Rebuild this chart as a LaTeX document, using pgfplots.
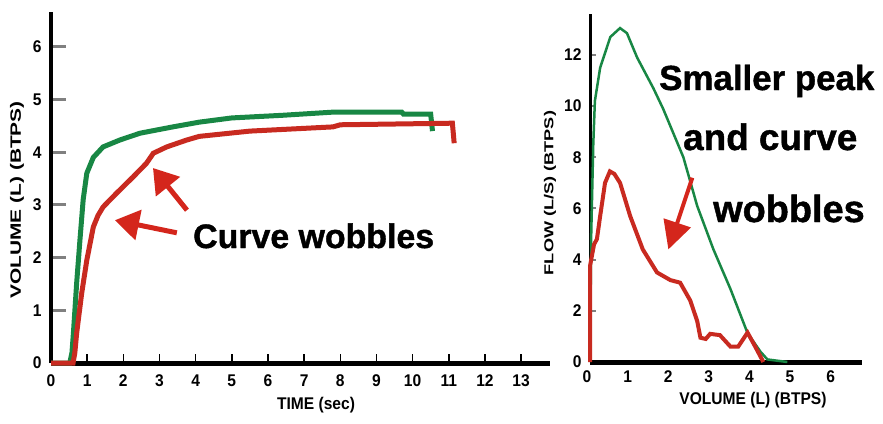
\documentclass[border=0pt]{standalone}
\usepackage{pgfplots}
\pgfplotsset{compat=1.18}
\usepackage{fontspec}
\setmainfont{Liberation Sans}
\usetikzlibrary{arrows.meta}
\newfontfamily\tickf[FakeStretch=0.92]{Liberation Sans}
\newfontfamily\ylabf[FakeStretch=1.4]{Liberation Sans}
\newfontfamily\notef[FakeBold=1.2]{Liberation Sans}
\definecolor{pgreen}{RGB}{24,135,68}
\definecolor{pred}{RGB}{200,42,32}
\definecolor{ared}{RGB}{212,38,28}

\pgfplotsset{
  spiro/.style={
    scale only axis,
    axis x line=bottom, axis y line=left,
    axis line style={-},
    tick align=inside,
    clip=false,
    anchor=south west,
    ticklabel style={font=\tickf\bfseries\fontsize{17}{18}\selectfont, text=black},
    /pgf/number format/assume math mode=true,
  },
}
\tikzset{wob/.style={ared, line width=5bp, -{Triangle[length=24bp,width=30bp]}}}

\begin{document}
\begin{tikzpicture}[x=1bp,y=1bp]
\useasboundingbox (0,0) rectangle (883,423);

% volume-time
\begin{axis}[spiro,
  at={(51bp,60bp)}, width=499bp, height=351bp,
  xmin=0, xmax=13.8, ymin=0, ymax=6.66,
  xtick={0,...,13}, ytick={0,...,6},
  x axis line style={line width=5bp},
  y axis line style={line width=4bp},
  xtick style={draw=none},
  ytick style={line width=3bp, /pgfplots/major tick length=15bp},
  xticklabel style={yshift=-8bp},
  yticklabel style={xshift=-6bp},
]
\addplot[pgreen, line width=5bp] coordinates {
  (0,0) (0.52,0) (0.58,0.2) (0.62,0.57) (0.71,1.52) (0.80,2.33) (0.89,3.1)
  (0.99,3.6) (1.17,3.9) (1.44,4.1) (1.9,4.23) (2.46,4.36) (3.37,4.48)
  (4.1,4.57) (5.0,4.65) (6.4,4.7) (7.8,4.76) (9.7,4.76) (9.75,4.72)
  (10.5,4.72) (10.55,4.4)
};
\addplot[pred, line width=5bp] coordinates {
  (0,0) (0.61,0) (0.66,0.2) (0.71,0.57) (0.85,1.33) (0.99,1.95) (1.17,2.58)
  (1.3,2.8) (1.44,2.96) (1.81,3.22) (2.27,3.53) (2.64,3.79) (2.83,3.98)
  (3.2,4.1) (3.75,4.23) (4.1,4.3) (5.5,4.4) (7.8,4.48) (8,4.52) (11.1,4.55)
  (11.15,4.17)
};
% short upward ticks on the time axis
\pgfplotsinvokeforeach{1,...,13}{
  \draw[black, line width=1.5bp] (axis cs:#1,0) -- ++(0,9bp);
}
\draw[wob] (axis cs:3.48,2.47) -- (axis cs:1.77,2.71);
\draw[wob] (axis cs:3.76,2.9) -- (axis cs:2.82,3.7);
\end{axis}

% flow-volume
\begin{axis}[spiro,
  at={(590bp,61bp)}, width=272bp, height=348bp,
  xmin=0, xmax=6.7, ymin=0, ymax=13.6,
  xtick={0,...,6}, ytick={0,2,...,12},
  x axis line style={line width=5bp},
  y axis line style={line width=3bp},
  xtick style={draw=none},
  ytick style={line width=2bp, /pgfplots/major tick length=6bp},
  xticklabel style={yshift=-5bp, xshift=-3bp},
  yticklabel style={xshift=-5bp},
]
\addplot[pgreen, line width=2.5bp] coordinates {
  (0,0) (0.03,5) (0.08,8.5) (0.12,10.2) (0.25,11.5) (0.5,12.7) (0.74,13.05)
  (0.91,12.85) (1.16,11.9) (1.56,10.7) (1.8,9.9) (2.05,8.95) (2.3,8.0)
  (2.64,6.1) (3.04,4.4) (3.46,2.85) (3.88,1.13) (4.2,0.4) (4.37,0.1) (4.86,0)
};
\addplot[pred, line width=4bp] coordinates {
  (0,0) (0,3.75) (0.1,4.6) (0.17,4.8) (0.25,5.7) (0.37,7.0) (0.49,7.45)
  (0.6,7.35) (0.74,7.0) (0.99,5.7) (1.3,4.4) (1.65,3.5) (1.98,3.2)
  (2.22,3.1) (2.47,2.4) (2.64,1.6) (2.72,0.95) (2.85,0.9) (2.96,1.1)
  (3.2,1.05) (3.46,0.6) (3.65,0.6) (3.88,1.15) (4.07,0.6) (4.27,0)
};
\draw[ared, line width=4bp, -{Triangle[length=28bp,width=28bp]}]
  (axis cs:2.52,7.2) -- (axis cs:1.93,4.4);
\end{axis}

% axis titles
\node[rotate=90] at (17,223) {\ylabf\bfseries\fontsize{15}{16}\selectfont VOLUME (L) (BTPS)};
\node at (316,18) {\tickf\bfseries\fontsize{17}{18}\selectfont TIME (sec)};
\node[rotate=90] at (550,230) {\ylabf\bfseries\fontsize{13}{14}\selectfont FLOW (L/S) (BTPS)};
\node at (753,23) {\tickf\bfseries\fontsize{17}{18}\selectfont VOLUME (L) (BTPS)};

% notes
\node[anchor=base west, inner sep=0] at (193,175)
  {\notef\bfseries\fontsize{34}{40}\selectfont Curve wobbles};
\node[anchor=base west, inner sep=0] at (659,333)
  {\notef\bfseries\fontsize{35}{40}\selectfont Smaller peak};
\node[anchor=base west, inner sep=0] at (683,273)
  {\notef\bfseries\fontsize{37}{44}\selectfont and curve};
\node[anchor=base west, inner sep=0] at (713,201)
  {\notef\bfseries\fontsize{38}{44}\selectfont wobbles};
\end{tikzpicture}
\end{document}
